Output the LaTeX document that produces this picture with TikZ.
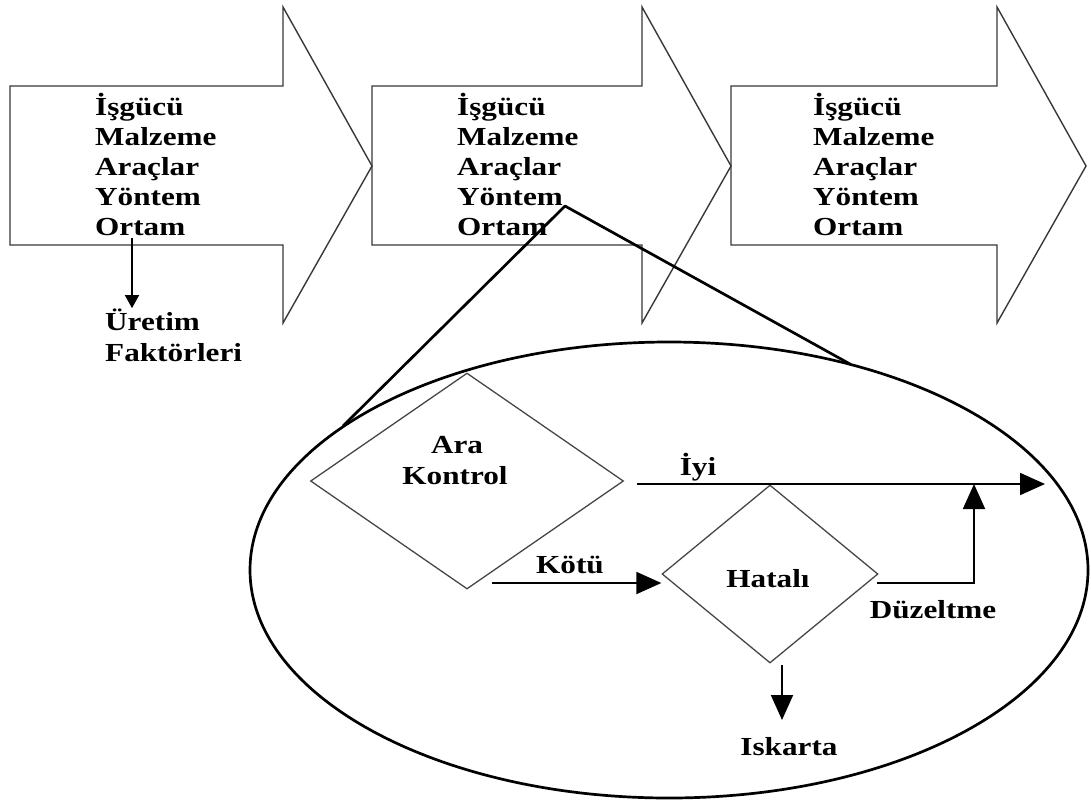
\documentclass[tikz,border=0pt]{standalone}
\usepackage{fontspec}
\setmainfont{Liberation Serif}[FakeStretch=1.2]
\usetikzlibrary{arrows.meta,shapes.geometric}
\begin{document}
\begin{tikzpicture}[x=1pt,y=-1pt,
  shp/.style={draw=black!78, line width=1.4pt, line join=miter},
  lbl/.style={font=\fontsize{26}{30}\selectfont\bfseries, inner sep=0pt},
  conn/.style={draw=black, line width=1.9pt, -{Triangle[length=25pt,width=22pt]}},
  smallconn/.style={draw=black, line width=1.5pt, -{Triangle[length=13pt,width=14pt]}},
  zoomln/.style={draw=black, line width=2.7pt},
  dia/.style={diamond, draw=black!72, line width=1.3pt, inner sep=0pt}]
\useasboundingbox (0,0) rectangle (1091,801);
% big process arrows
\draw[shp] (10,86) -- (283,86) -- (283,7) -- (372,166) -- (283,323) -- (283,245) -- (10,245) -- cycle;
\draw[shp] (372,86) -- (642,86) -- (642,7) -- (731,166) -- (642,323) -- (642,245) -- (372,245) -- cycle;
\draw[shp] (731,86) -- (997,86) -- (997,7) -- (1086,166) -- (997,323) -- (997,245) -- (731,245) -- cycle;
% texts in arrows
\foreach \ax/\an in {95/a, 457/b, 813/c}{
  \node[lbl, anchor=base west] (\an1) at (\ax,115) {İşgücü};
  \node[lbl, anchor=base west] (\an2) at (\ax,145) {Malzeme};
  \node[lbl, anchor=base west] (\an3) at (\ax,175) {Araçlar};
  \node[lbl, anchor=base west] (\an4) at (\ax,205) {Yöntem};
  \node[lbl, anchor=base west] (\an5) at (\ax,235) {Ortam};
}
% Uretim faktorleri
\node[lbl, anchor=base west] (ur) at (105,330) {Üretim};
\node[lbl, anchor=base west] (fak) at (105,361) {Faktörleri};
\coordinate (urs) at (132,238);
\draw[smallconn] (urs) -- (urs |- ur.north);
% zoom ellipse
\node[ellipse, draw=black, line width=2.7pt, minimum width=838pt, minimum height=456pt, inner sep=0pt] (ell) at (669,570) {};
\coordinate (zv) at (565,206);
\coordinate (zl) at (343,426);
\coordinate (zr) at (850,364);
\draw[zoomln, line join=round] (zl) -- (zv) -- (zr);
% diamonds
\node[dia, minimum width=313pt, minimum height=216pt] (ak) at (467,481) {};
\node[dia, minimum width=216pt, minimum height=178pt] (hat) at (770,574) {};
\node[lbl, anchor=base] (ara) at (457,453) {Ara};
\node[lbl, anchor=base] (kon) at (455,484) {Kontrol};
\node[lbl, anchor=base] (hl) at (768,587) {Hatalı};
% connectors
\coordinate (iyis) at (637,484);
\coordinate (iyie) at (1045,484);
\draw[conn] (iyis) -- (iyie);
\node[lbl, anchor=base] (iyi) at (698,475) {İyi};
\coordinate (kotus) at (492,583);
\draw[conn] (kotus) -- (hat.west |- kotus);
\node[lbl, anchor=base] (kotu) at (570,573) {Kötü};
\coordinate (duzs) at (877,583);
\coordinate (duzx) at (974,583);
\draw[conn] (duzs) -- (duzx) -- (duzx |- iyis);
\node[lbl, anchor=base] (duz) at (933,618) {Düzeltme};
\coordinate (isks) at (782,665);
\coordinate (iske) at (782,720);
\draw[conn] (isks) -- (iske);
\node[lbl, anchor=base] (isk) at (789,755) {Iskarta};
\end{tikzpicture}
\end{document}
